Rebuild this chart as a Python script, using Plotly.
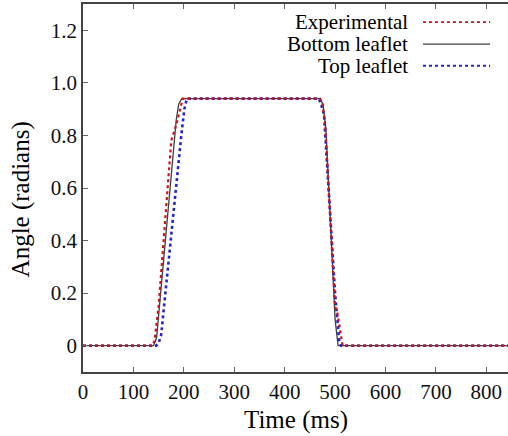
import plotly.graph_objects as go

# Experimental data (Time ms, angle radians)
exp_t = [0, 138, 142, 150, 175, 185, 198, 470, 474, 480, 500, 505, 515, 850]
exp_a = [0, 0, 0.02, 0.15, 0.78, 0.84, 0.94, 0.94, 0.93, 0.85, 0.15, 0.12, 0, 0]

# Bottom leaflet
bot_t = [0, 140, 146, 185, 190, 196, 470, 476, 482, 500, 506, 850]
bot_a = [0, 0, 0.03, 0.86, 0.92, 0.94, 0.94, 0.92, 0.82, 0.1, 0, 0]

# Top leaflet
top_t = [0, 145, 150, 155, 195, 201, 206, 468, 472, 478, 500, 508, 512, 850]
top_a = [0, 0, 0.01, 0.04, 0.8, 0.9, 0.94, 0.94, 0.92, 0.88, 0.2, 0.02, 0, 0]

series_names = ["Experimental", "Bottom leaflet", "Top leaflet"]
x_ticks = [0, 100, 200, 300, 400, 500, 600, 700, 800]
y_ticks = [0, 0.2, 0.4, 0.6, 0.8, 1.0, 1.2]
y_tick_labels = ["0", "0.2", "0.4", "0.6", "0.8", "1.0", "1.2"]

styles = [
    dict(color="#c8141e", width=2.2, dash="dot"),
    dict(color="#404040", width=1.3, dash="solid"),
    dict(color="#2424cc", width=2.6, dash="dot"),
]

fig = go.Figure()
fig.add_trace(go.Scatter(x=bot_t, y=bot_a, mode="lines", line=styles[1], name=series_names[1], showlegend=False))
fig.add_trace(go.Scatter(x=top_t, y=top_a, mode="lines", line=styles[2], name=series_names[2], showlegend=False))
fig.add_trace(go.Scatter(x=exp_t, y=exp_a, mode="lines", line=styles[0], name=series_names[0], showlegend=False))

font_family = "Liberation Serif"

# custom legend: right-aligned text with sample line on the right
rows_y = [0.951, 0.891, 0.832]
for name, st, yy in zip(series_names, styles, rows_y):
    fig.add_annotation(x=0.769, y=yy, xref="paper", yref="paper", text=name,
                       showarrow=False, xanchor="right", yanchor="middle",
                       font=dict(family=font_family, size=21, color="#000"))
    fig.add_shape(type="line", xref="paper", yref="paper", x0=0.80, x1=0.958, y0=yy, y1=yy,
                  line=dict(color=st["color"], width=st["width"] * 0.8, dash=st["dash"]))

# axis titles
fig.add_annotation(x=0.5, y=-0.13, xref="paper", yref="paper", text="Time (ms)",
                   showarrow=False, xanchor="center", yanchor="middle",
                   font=dict(family=font_family, size=25, color="#000"))
fig.add_annotation(x=-0.145, y=0.47, xref="paper", yref="paper", text="Angle (radians)",
                   showarrow=False, xanchor="center", yanchor="middle", textangle=-90,
                   font=dict(family=font_family, size=25, color="#000"))

axis_common = dict(showgrid=False, zeroline=False, showline=True, linecolor="#444",
                   linewidth=1.5, ticks="inside", ticklen=5, tickcolor="#666",
                   automargin=False,
                   tickfont=dict(family=font_family, size=21, color="#111"))

fig.update_layout(
    width=508, height=436,
    margin=dict(l=83, r=0, t=4, b=64),
    paper_bgcolor="white", plot_bgcolor="white",
    font=dict(family=font_family, color="#111"),
    xaxis=dict(range=[0, 843], tickvals=x_ticks, mirror="ticks", **axis_common),
    yaxis=dict(range=[-0.1, 1.3], tickvals=y_ticks, ticktext=y_tick_labels, mirror=False,
               **axis_common),
)

fig.write_html("out.html", config={"displayModeBar": False},
               post_script="document.body.style.margin='0';document.body.style.overflow='hidden';")
